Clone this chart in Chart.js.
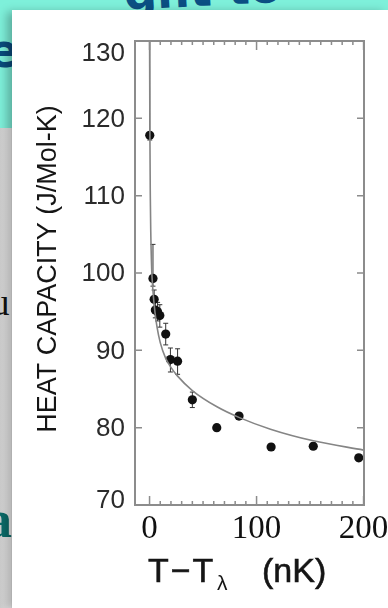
<!DOCTYPE html>
<html>
<head>
<meta charset="utf-8">
<script src="https://cdn.jsdelivr.net/npm/chart.js@4.4.1/dist/chart.umd.min.js"></script>
<style>
  html, body { margin: 0; padding: 0; }
  body { width: 388px; height: 608px; position: relative; overflow: hidden; background: #7ef0da; }
  .strip { position: absolute; left: 0; top: 128px; width: 14px; height: 480px;
           background: linear-gradient(to right, #cdcdcd, #ececec 75%, #d6d6d6); }
  .bg { position: absolute; white-space: nowrap; }
  #topText { left: 125px; top: -29px; font: bold 46px "DejaVu Sans", sans-serif; line-height: 46px;
             color: #0b4f83; transform: rotate(-3deg); transform-origin: left bottom; }
  #eText { left: -12px; top: 28px; font: bold 46px "DejaVu Sans", sans-serif; line-height: 46px; color: #0a4c7d; }
  #uText { left: -9px; top: 284px; font: 37px "Liberation Serif", serif; line-height: 37px; color: #111; }
  #aText { left: -14px; top: 494px; font: bold 52px "Liberation Serif", serif; line-height: 52px; color: #0b6b69; }
  .card { position: absolute; left: 12px; top: 10px; width: 376px; height: 598px; background: #fff;
          box-shadow: -5px 2px 9px rgba(0,0,0,0.28); }
  #chart { position: absolute; left: 0; top: 0; }
</style>
</head>
<body>
<div class="strip"></div>
<div class="bg" id="topText">ght to</div>
<div class="bg" id="eText">e</div>
<div class="bg" id="uText">u</div>
<div class="bg" id="aText">a</div>
<div class="card"></div>
<canvas id="chart" width="388" height="608"></canvas>
<script>
// ── DATA ─────────────────────────────────────────────────────────────────
// measured points: T - T_lambda (nK) vs heat capacity (J/Mol-K)
const pointT   = [0.2, 3.2, 4.3, 5.4, 7.5, 9.6, 15.1, 19.5, 26.2, 40.0, 62.8, 83.6, 113.6, 153.0, 195.5];
const pointC   = [117.8, 99.3, 96.6, 95.2, 95.0, 94.5, 92.1, 88.8, 88.6, 83.6, 80.0, 81.5, 77.5, 77.6, 76.1];
const errUp    = [12.5, 4.4, 1.2, 1.0, 1.2, 1.4, 1.4, 1.5, 1.6, 1.0, 0.4, 0.4, 0.4, 0.4, 0.4];
const errDown  = [0.6, 1.0, 1.2, 1.0, 1.2, 1.5, 1.4, 1.6, 1.7, 1.0, 0.4, 0.4, 0.4, 0.4, 0.4];

// fitted curve
const fitT = [0.03, 0.3, 0.7, 1.1, 2, 3, 5, 7, 10, 15, 20, 26, 40, 63, 84, 113, 153, 200];
const fitC = [131, 118.5, 110, 105.6, 100.5, 98, 95, 93, 91, 89.0, 87.8, 86.7, 84.8, 82.7, 81.3, 79.8, 78.3, 77.1];

const xTicks      = [0, 100, 200];
const xMinorTicks = [0, 10, 20, 30, 40, 50, 60, 70, 80, 90, 100, 110, 120, 130, 140, 150, 160, 170, 180, 190, 200];
const yTicks      = [70, 80, 90, 100, 110, 120, 130];

const yTitle = 'HEAT CAPACITY (J/Mol-K)';

// ── FRAME / TICKS / TITLES ───────────────────────────────────────────────
const frameColor = '#8c8c8c';

const errorBars = {
  id: 'errorBars',
  beforeDatasetsDraw(chart) {
    const { ctx, chartArea: a, scales: { x, y } } = chart;
    ctx.save();
    ctx.beginPath();
    ctx.rect(a.left, a.top, a.width, a.height);
    ctx.clip();
    ctx.strokeStyle = '#333';
    ctx.lineWidth = 1;
    pointT.forEach((t, i) => {
      const px = x.getPixelForValue(t);
      const y1 = y.getPixelForValue(pointC[i] + errUp[i]);
      const y2 = y.getPixelForValue(pointC[i] - errDown[i]);
      ctx.beginPath();
      ctx.moveTo(px, y1); ctx.lineTo(px, y2);
      ctx.moveTo(px - 2.5, y1); ctx.lineTo(px + 2.5, y1);
      ctx.moveTo(px - 2.5, y2); ctx.lineTo(px + 2.5, y2);
      ctx.stroke();
    });
    ctx.restore();
  }
};

const axesDecor = {
  id: 'axesDecor',
  afterDraw(chart) {
    const { ctx, chartArea: a, scales: { x, y } } = chart;
    ctx.save();

    // frame
    ctx.strokeStyle = frameColor;
    ctx.lineWidth = 2;
    ctx.strokeRect(a.left, a.top, a.width, a.height);

    // inner ticks
    ctx.lineWidth = 1.5;
    ctx.beginPath();
    xMinorTicks.forEach(v => {
      const px = x.getPixelForValue(v);
      const len = xTicks.includes(v) ? 9 : 4;
      ctx.moveTo(px, a.bottom); ctx.lineTo(px, a.bottom - len);
      ctx.moveTo(px, a.top);    ctx.lineTo(px, a.top + len);
    });
    yTicks.forEach(v => {
      const py = y.getPixelForValue(v);
      ctx.moveTo(a.left, py);  ctx.lineTo(a.left + 7, py);
      ctx.moveTo(a.right, py); ctx.lineTo(a.right - 7, py);
    });
    ctx.stroke();

    // y tick labels (top/bottom labels sit inside the frame)
    ctx.fillStyle = '#2b2b2b';
    ctx.font = '26px "Liberation Sans", Arial, sans-serif';
    ctx.textAlign = 'right';
    ctx.textBaseline = 'middle';
    yTicks.forEach(v => {
      let py = y.getPixelForValue(v);
      if (v === y.max) py += 12;
      if (v === y.min) py -= 5;
      ctx.fillText(String(v), a.left - 10, py + 1);
    });

    // y title
    ctx.save();
    ctx.translate(48, 269);
    ctx.rotate(-Math.PI / 2);
    ctx.textAlign = 'center';
    ctx.fillStyle = '#151515';
    ctx.font = '27px "Liberation Sans", Arial, sans-serif';
    ctx.fillText(yTitle, 0, 1);
    ctx.restore();

    // x title: T−T_λ (nK)
    ctx.textAlign = 'left';
    ctx.textBaseline = 'alphabetic';
    ctx.fillStyle = '#151515';
    ctx.strokeStyle = '#151515';
    ctx.lineWidth = 0.6;
    const base = 582;
    ctx.font = '34px "Liberation Sans", Arial, sans-serif';
    ctx.letterSpacing = '2px';
    ctx.fillText('T\u2212T', 148, base);
    ctx.strokeText('T\u2212T', 148, base);
    ctx.letterSpacing = '0px';
    ctx.font = '21px "Liberation Sans", Arial, sans-serif';
    ctx.fillText('\u03bb', 217, base + 8);
    ctx.font = '34px "Liberation Sans", Arial, sans-serif';
    ctx.fillText('(nK)', 262, base);
    ctx.strokeText('(nK)', 262, base);

    ctx.restore();
  }
};

// ── CHART ────────────────────────────────────────────────────────────────
new Chart(document.getElementById('chart'), {
  type: 'scatter',
  data: {
    datasets: [
      {
        type: 'line',
        data: fitT.map((t, i) => ({ x: t, y: fitC[i] })),
        borderColor: '#858585',
        borderWidth: 1.6,
        pointRadius: 0,
        cubicInterpolationMode: 'monotone',
        fill: false
      },
      {
        data: pointT.map((t, i) => ({ x: t, y: pointC[i] })),
        pointRadius: 4.6,
        backgroundColor: '#111',
        borderColor: '#111',
        borderWidth: 0
      }
    ]
  },
  options: {
    responsive: false,
    animation: false,
    devicePixelRatio: 1,
    layout: { padding: { top: 41, right: 24, bottom: 0, left: 0 } },
    plugins: { legend: { display: false }, tooltip: { enabled: false } },
    scales: {
      x: {
        type: 'linear',
        min: -13.6, max: 200.4,
        grid: { display: false, drawTicks: false },
        border: { display: false },
        ticks: {
          font: { family: 'Liberation Serif', size: 33 },
          color: '#111',
          padding: 5,
          maxRotation: 0,
          autoSkip: false,
          includeBounds: false
        },
        afterBuildTicks: s => { s.ticks = xTicks.map(v => ({ value: v })); },
        afterFit: s => { s.height = 103; s.paddingLeft = 0; s.paddingRight = 0; }
      },
      y: {
        type: 'linear',
        min: 70, max: 130,
        grid: { display: false, drawTicks: false },
        border: { display: false },
        ticks: { display: false },
        afterBuildTicks: s => { s.ticks = yTicks.map(v => ({ value: v })); },
        afterFit: s => { s.width = 135; s.paddingTop = 0; s.paddingBottom = 0; }
      }
    }
  },
  plugins: [errorBars, axesDecor]
});
</script>
</body>
</html>
